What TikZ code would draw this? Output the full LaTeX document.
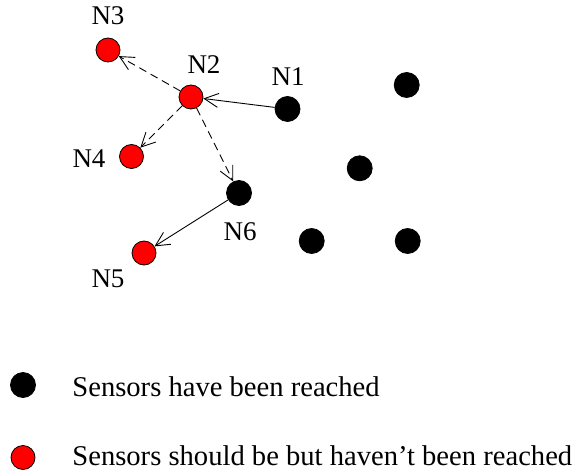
\documentclass[tikz,border=0pt]{standalone}
\usepackage{fontspec}
\setmainfont{Liberation Serif}
\usetikzlibrary{arrows.meta}

\tikzset{
  reached/.style={circle, fill=black, draw=black, line width=0.4pt, minimum size=12.5pt, inner sep=0pt},
  missed/.style={circle, fill=red, draw=black, line width=0.4pt, minimum size=12pt, inner sep=0pt},
  hop/.style={line width=0.45pt, -{Straight Barb[length=7pt,width=7pt,line width=0.45pt]}},
  tag/.style={inner sep=0pt, font=\fontsize{13.5pt}{16pt}\selectfont},
  legendtext/.style={inner sep=0pt, anchor=base west, font=\fontsize{14.3pt}{17pt}\selectfont}
}

\begin{document}
\begin{tikzpicture}[x=0.5pt, y=-0.5pt]
\useasboundingbox (0,0) rectangle (576,475);
\node[reached] (n1) at (287.5,109) {};
\node[missed] (n2) at (191,97) {};
\node[missed] (n3) at (108,50) {};
\node[missed] (n4) at (131.5,156.5) {};
\node[missed] (n5) at (144,253) {};
\node[reached] (n6) at (239,193) {};
\node[reached] (s1) at (406.7,85) {};
\node[reached] (s2) at (359.7,168.3) {};
\node[reached] (s3) at (311.7,241) {};
\node[reached] (s4) at (407.7,241) {};
\node[tag] (l1) at (288,77) {N1};
\node[tag] (l2) at (204,65) {N2};
\node[tag] (l3) at (108,16) {N3};
\node[tag] (l4) at (89,159) {N4};
\node[tag] (l5) at (108,279) {N5};
\node[tag] (l6) at (240,232) {N6};
\draw[hop] (n1) -- (n2);
\draw[hop, dash pattern=on 4pt off 2.5pt] (n2) -- (n3);
\draw[hop, dash pattern=on 4pt off 2.5pt] (n2) -- (n4);
\draw[hop, dash pattern=on 4pt off 2.5pt] (n2) -- (n6);
\draw[hop] (n6) -- (n5);
\node[reached] (k1) at (23,385) {};
\node[missed] (k2) at (23,457.5) {};
\node[legendtext] (t1) at (72,396) {Sensors have been reached};
\node[legendtext] (t2) at (72,465) {Sensors should be but haven’t been reached};
\end{tikzpicture}
\end{document}
